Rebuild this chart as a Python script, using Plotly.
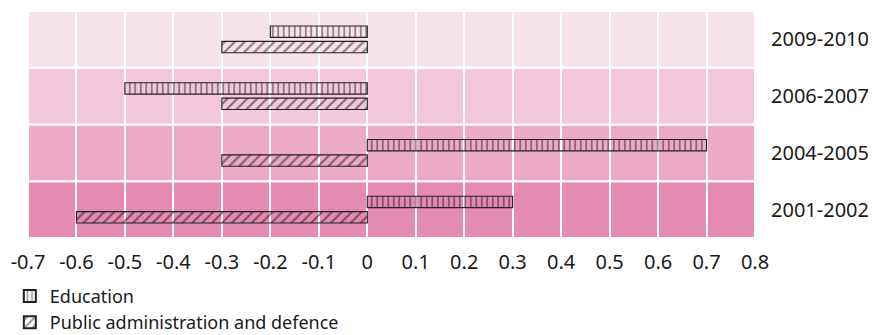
import plotly.graph_objects as go

periods = ["2001-2002", "2004-2005", "2006-2007", "2009-2010"]
education = [0.3, 0.7, -0.5, -0.2]
public_admin = [-0.6, -0.3, -0.3, -0.3]
band_colors = ["#e58ab2", "#edaac6", "#f2c8da", "#f8e3ea"]
x_ticks = [-0.7, -0.6, -0.5, -0.4, -0.3, -0.2, -0.1, 0, 0.1, 0.2, 0.3, 0.4, 0.5, 0.6, 0.7, 0.8]
x_labels = ["-0.7", "-0.6", "-0.5", "-0.4", "-0.3", "-0.2", "-0.1", "0", "0.1", "0.2", "0.3", "0.4", "0.5", "0.6", "0.7", "0.8"]

FONT = "Noto Sans"

fig = go.Figure()
fig.add_trace(go.Bar(
    y=periods, x=public_admin, orientation="h", name="Public administration and defence",
    marker=dict(color="rgba(255,255,255,0)", line=dict(color="#222222", width=1.2),
                pattern=dict(shape="/", fgcolor="#111111", bgcolor="rgba(255,255,255,0)", size=7, solidity=0.3)),
))
fig.add_trace(go.Bar(
    y=periods, x=education, orientation="h", name="Education",
    marker=dict(color="rgba(255,255,255,0)", line=dict(color="#222222", width=1.2),
                pattern=dict(shape="|", fgcolor="#111111", bgcolor="rgba(255,255,255,0)", size=5.5, solidity=0.3)),
))

for i, c in enumerate(band_colors):
    fig.add_shape(type="rect", xref="paper", yref="y", x0=0, x1=1, y0=i - 0.5, y1=i + 0.5,
                  fillcolor=c, line=dict(color="white", width=2), layer="below")

fig.update_layout(
    width=868, height=327,
    margin=dict(l=20, r=121, t=3, b=97, autoexpand=False),
    paper_bgcolor="white", plot_bgcolor="white",
    barmode="group", bargap=0.46, bargroupgap=0.255,
    font=dict(family=FONT, size=20, color="#1a1a1a"),
    xaxis=dict(range=[-0.7, 0.8], tickvals=x_ticks, ticktext=x_labels, showgrid=True,
               gridcolor="white", gridwidth=1.5, zeroline=True, zerolinecolor="white",
               zerolinewidth=1.5, showline=False, ticks="", ticklabelstandoff=10,
               tickangle=0, automargin=False),
    yaxis=dict(side="right", range=[-0.5, 3.5], showgrid=False, zeroline=False, showline=False,
               ticks="", ticklabelstandoff=15, categoryorder="array", categoryarray=periods,
               automargin=False),
    legend=dict(x=-0.025, y=-0.175, xanchor="left", yanchor="top",
                traceorder="reversed", font=dict(size=18), tracegroupgap=0, itemsizing="constant",
                bgcolor="rgba(0,0,0,0)", borderwidth=0),
    showlegend=True,
)

fig.write_html("out.html")
